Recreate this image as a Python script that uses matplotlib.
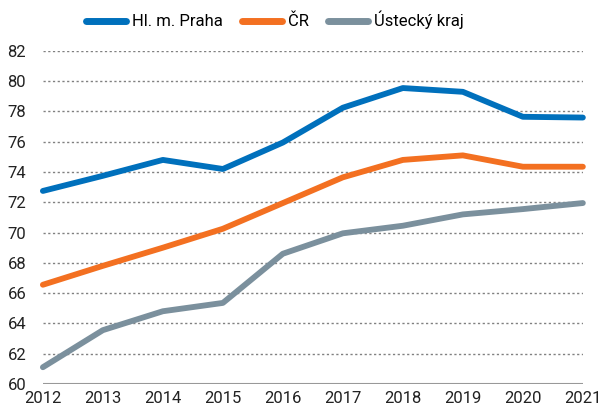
import matplotlib
matplotlib.use("Agg")
import matplotlib.pyplot as plt

years = [2012, 2013, 2014, 2015, 2016, 2017, 2018, 2019, 2020, 2021]
praha = [72.75, 73.75, 74.8, 74.2, 75.95, 78.25, 79.55, 79.3, 77.65, 77.6]
cr = [66.55, 67.8, 69.0, 70.25, 71.95, 73.65, 74.8, 75.1, 74.35, 74.35]
usti = [61.1, 63.55, 64.8, 65.35, 68.6, 69.95, 70.45, 71.2, 71.55, 71.95]
labels = ["Hl. m. Praha", "ČR", "Ústecký kraj"]
colors = ["#0070BC", "#F37021", "#7B909D"]
yticks = [60, 62, 64, 66, 68, 70, 72, 74, 76, 78, 80, 82]

plt.rcParams['font.family'] = ['Roboto', 'DejaVu Sans']
fig = plt.figure(figsize=(6.04, 4.11), dpi=100)
ax = fig.add_axes([0.071, 0.066, 0.894, 0.810])

for vals, lab, c in zip([praha, cr, usti], labels, colors):
    ax.plot(years, vals, color=c, lw=4.2, label=lab, solid_capstyle='round',
            solid_joinstyle='round', clip_on=False, zorder=3)

ax.set_xlim(2012, 2021)
ax.set_ylim(60, 82)
ax.set_yticks(yticks)
ax.set_xticks(years)
for y in yticks[1:]:
    ax.axhline(y, color='#808080', lw=1.0, ls=(0, (1.6, 1.8)), zorder=1)
ax.axhline(60, color='#999999', lw=1.5, zorder=2)
for s in ax.spines.values():
    s.set_visible(False)
ax.tick_params(axis='both', length=0, labelsize=12, colors='#222222')
ax.tick_params(axis='y', pad=12)
ax.tick_params(axis='x', pad=5)

leg = fig.legend(loc='upper center', bbox_to_anchor=(0.455, 1.01), ncol=3, frameon=False,
                 fontsize=12, handlelength=2.4, columnspacing=1.1, handletextpad=0.4)
for ln in leg.get_lines():
    ln.set_linewidth(5)
fig.savefig("out.png", dpi=100)
